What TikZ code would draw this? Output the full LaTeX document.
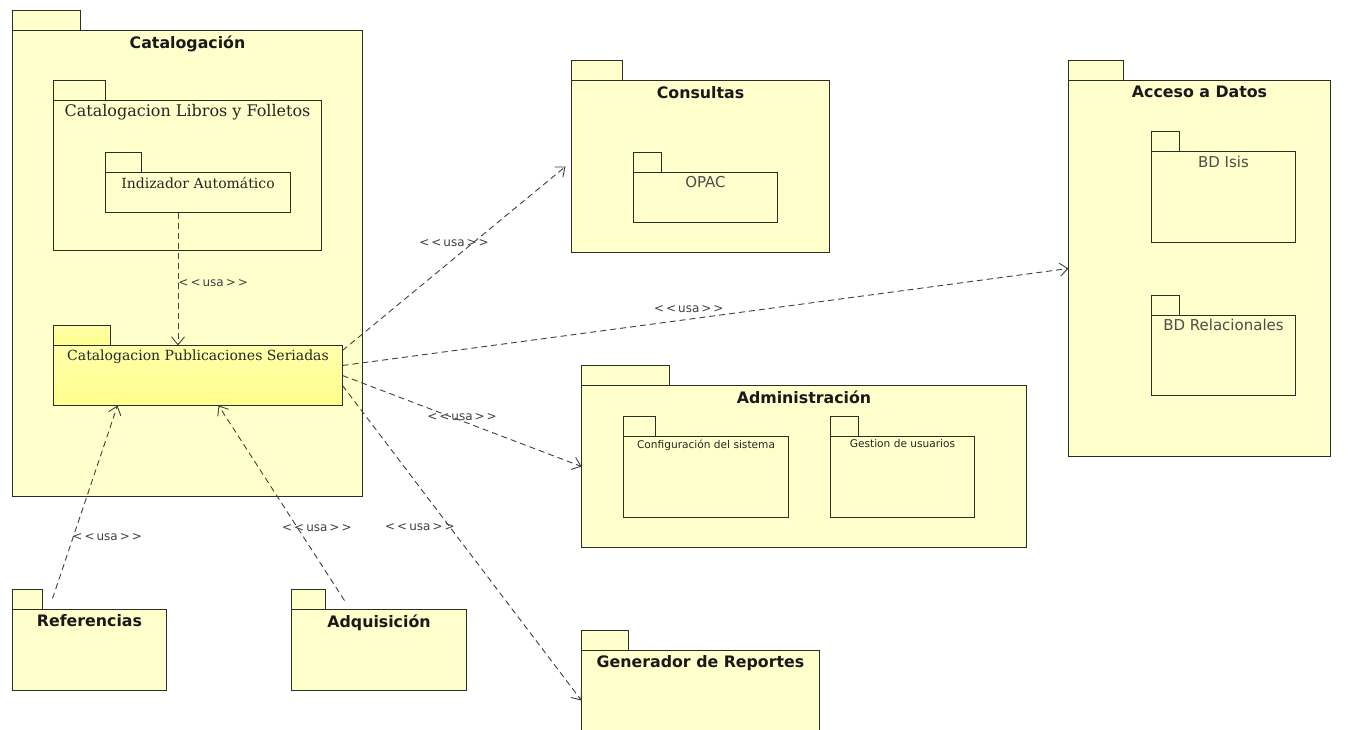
\documentclass[tikz,border=0pt]{standalone}
\usepackage{fontspec}
\setmainfont{DejaVu Serif}
\setsansfont{DejaVu Sans}
\usetikzlibrary{arrows.meta}
\definecolor{pkgfill}{RGB}{255,255,204}
\definecolor{pkgline}{RGB}{45,45,40}
% paquete: nombre, x, y (esquina del cuerpo), ancho, alto, ancho pestaña, estilo
\newcommand\pkg[7]{%
  \draw[pkgtab,#7] (#2,#3) rectangle ++(#6,-20);
  \node[pkgbox,#7,anchor=north west,minimum width=#4pt,minimum height=#5pt] (#1) at (#2,#3) {};}
\begin{document}
\begin{tikzpicture}[x=1pt,y=-1pt,
  pkgbox/.style={draw=pkgline,fill=pkgfill,line width=1.2pt,inner sep=0pt,outer sep=0pt},
  pkgtab/.style={draw=pkgline,fill=pkgfill,line width=1.2pt},
  sel/.style={top color={rgb,255:red,255;green,255;blue,170},bottom color={rgb,255:red,255;green,255;blue,140}},
  title/.style={font=\sffamily\bfseries\fontsize{15.8}{16}\selectfont,inner sep=0pt,text=black!90},
  serif/.style={font=\rmfamily\fontsize{14}{14}\selectfont,inner sep=0pt,text=black!85},
  light/.style={font=\sffamily\fontsize{15}{15}\selectfont,inner sep=0pt,text=black!70},
  tiny/.style={font=\sffamily\fontsize{10.6}{11}\selectfont,inner sep=0pt,text=black!85},
  usa/.style={draw=black!75,line width=0.9pt,dash pattern=on 6pt off 4pt,-{Straight Barb[length=8pt,width=13pt]}},
  lbl/.style={font=\sffamily\fontsize{12}{12}\selectfont,text=black!75,inner sep=1pt}]
\useasboundingbox[fill=white] (0,0) rectangle (1348,730);
\clip (0,0) rectangle (1348,730);
\begin{scope}[shift={(0.5,0.5)}]
% Catalogacion
\pkg{cat}{12}{30}{350}{466}{68}{}
\node[title,below=5pt] at (cat.north) {Catalogación};
\pkg{lib}{53}{100}{268}{150}{52}{}
\node[serif,font=\rmfamily\fontsize{16}{16}\selectfont,below=4pt] at (lib.north) {Catalogacion Libros y Folletos};
\pkg{ind}{105}{172}{185}{40}{36}{}
\node[serif,below=5pt] at (ind.north) {Indizador Automático};
\pkg{cps}{53}{345}{289}{60}{57}{sel}
\node[serif,below=4pt] at (cps.north) {Catalogacion Publicaciones Seriadas};
% Consultas
\pkg{con}{571}{80}{258}{172}{51}{}
\node[title,below=6pt] at (con.north) {Consultas};
\pkg{opac}{633}{172}{144}{50}{28}{}
\node[light,below=4pt] at (opac.north) {OPAC};
% Acceso a Datos
\pkg{acc}{1068}{80}{262}{376}{55}{}
\node[title,below=5pt] at (acc.north) {Acceso a Datos};
\pkg{isis}{1151}{151}{144}{91}{28}{}
\node[light,below=4pt] at (isis.north) {BD Isis};
\pkg{rel}{1151}{315}{144}{80}{28}{}
\node[light,below=3pt] at (rel.north) {BD Relacionales};
% Administracion
\pkg{adm}{581}{385}{445}{162}{88}{}
\node[title,below=5pt] at (adm.north) {Administración};
\pkg{conf}{623}{436}{165}{81}{32}{}
\node[tiny,below=3pt] at (conf.north) {Configuración del sistema};
\pkg{ges}{830}{436}{144}{81}{28}{}
\node[tiny,below=3pt] at (ges.north) {Gestion de usuarios};
% abajo
\pkg{ref}{12}{609}{154}{81}{30}{}
\node[title,below=5pt] at (ref.north) {Referencias};
\pkg{adq}{291}{609}{175}{81}{34}{}
\node[title,below=5pt] at (adq.north) {Adquisición};
\pkg{gen}{581}{650}{238}{100}{47}{}
\node[title,below=5pt] at (gen.north) {Generador de Reportes};
% dependencias
\draw[usa] ([xshift=-20pt]ind.south) -- ([xshift=-20pt]ind.south |- cps.north)
  node[lbl,pos=.53,right=-1pt] {<\,<\,usa\,>\,>};
\draw[usa] ([yshift=-5pt]cps.north east) -- ([xshift=-6pt]con.west)
  node[lbl,pos=.5,above=10pt] {<\,<\,usa\,>\,>};
\draw[usa] ([yshift=-20pt]cps.north east) -- (acc.west)
  node[lbl,pos=.477,above=5pt] {<\,<\,usa\,>\,>};
\draw[usa] ([yshift=-30pt]cps.north east) -- (adm.west)
  node[lbl,pos=.5,above=-1pt] {<\,<\,usa\,>\,>};
\draw[usa] ([yshift=-40pt]cps.north east) -- ([yshift=-50pt]gen.north west)
  node[lbl,pos=.45,left=-6pt] {<\,<\,usa\,>\,>};
\draw[usa] ([xshift=40pt,yshift=11pt]ref.north west) -- ([xshift=64pt]cps.south west)
  node[lbl,pos=.316,right=-2pt] {<\,<\,usa\,>\,>};
\draw[usa] ([xshift=53pt,yshift=9pt]adq.north west) -- ([xshift=165pt]cps.south west)
  node[lbl,pos=.37,xshift=19pt] {<\,<\,usa\,>\,>};
\end{scope}
\end{tikzpicture}
\end{document}
